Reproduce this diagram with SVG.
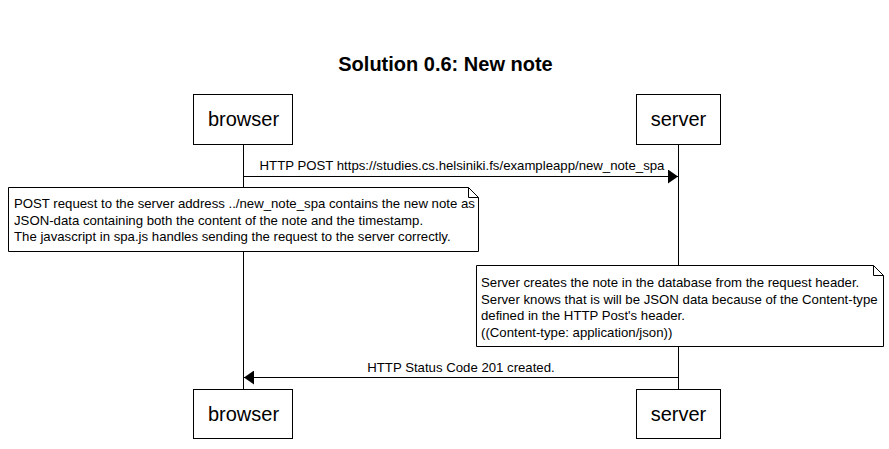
<svg xmlns="http://www.w3.org/2000/svg" width="889" height="449" viewBox="0 0 889 449">
  <style>
    .box { fill: #fff; stroke: #000; stroke-width: 1; }
    .life { stroke: #000; stroke-width: 1; fill: none; }
    .msg { stroke: #000; stroke-width: 1; fill: none; }
    .actor { font-family: "Liberation Sans", Arial, sans-serif; font-size: 20px; fill: #000; text-anchor: middle; }
    .label { font-family: "Liberation Sans", Arial, sans-serif; font-size: 13.2px; fill: #000; }
    .title { font-family: "Liberation Sans", Arial, sans-serif; font-size: 20px; font-weight: bold; fill: #000; text-anchor: middle; }
  </style>
  <defs>
    <marker id="head" markerWidth="10" markerHeight="14" refX="10" refY="7" orient="auto" markerUnits="userSpaceOnUse">
      <path d="M0,0 L10,7 L0,14 Z" fill="#000"/>
    </marker>
  </defs>
  <rect width="889" height="449" fill="#fff"/>

  <text class="title" x="445.5" y="71">Solution 0.6: New note</text>

  <!-- lifelines -->
  <g id="lifelines">
    <line class="life" x1="243.5" y1="144" x2="243.5" y2="389"/>
    <line class="life" x1="678.5" y1="144" x2="678.5" y2="389"/>
  </g>

  <!-- messages -->
  <g id="connectors">
    <line class="msg" x1="243.5" y1="176.5" x2="678" y2="176.5" marker-end="url(#head)"/>
    <text class="label" x="462" y="170" text-anchor="middle">HTTP POST https://studies.cs.helsiniki.fs/exampleapp/new_note_spa</text>
    <line class="msg" x1="678.5" y1="377.5" x2="244" y2="377.5" marker-end="url(#head)"/>
    <text class="label" x="461" y="372" text-anchor="middle">HTTP Status Code 201 created.</text>
  </g>

  <g id="browser-top">
    <rect class="box" x="193.5" y="94.5" width="99" height="50"/>
    <text class="actor" x="243.5" y="126">browser</text>
  </g>
  <g id="server-top">
    <rect class="box" x="636.5" y="94.5" width="84" height="50"/>
    <text class="actor" x="678.5" y="126">server</text>
  </g>
  <g id="browser-bottom">
    <rect class="box" x="193.5" y="389.5" width="99" height="49"/>
    <text class="actor" x="243.5" y="421">browser</text>
  </g>
  <g id="server-bottom">
    <rect class="box" x="636.5" y="389.5" width="84" height="49"/>
    <text class="actor" x="678.5" y="421">server</text>
  </g>

  <g id="note-request">
    <path class="box" d="M8.5,187.5 H468.5 L478.5,197.5 V251.5 H8.5 Z"/>
    <path class="life" d="M468.5,187.5 V197.5 H478.5"/>
    <text class="label" x="14" y="208">POST request to the server address ../new_note_spa contains the new note as</text>
    <text class="label" x="14" y="224.5">JSON-data containing both the content of the note and the timestamp.</text>
    <text class="label" x="14" y="241">The javascript in spa.js handles sending the request to the server correctly.</text>
  </g>

  <g id="note-server">
    <path class="box" d="M476.5,265.5 H873.5 L883.5,275.5 V346.5 H476.5 Z"/>
    <path class="life" d="M873.5,265.5 V275.5 H883.5"/>
    <text class="label" x="481" y="287">Server creates the note in the database from the request header.</text>
    <text class="label" x="481" y="303.5">Server knows that is will be JSON data because of the Content-type</text>
    <text class="label" x="481" y="320">defined in the HTTP Post's header.</text>
    <text class="label" x="481" y="336.5">((Content-type: application/json))</text>
  </g>
</svg>
